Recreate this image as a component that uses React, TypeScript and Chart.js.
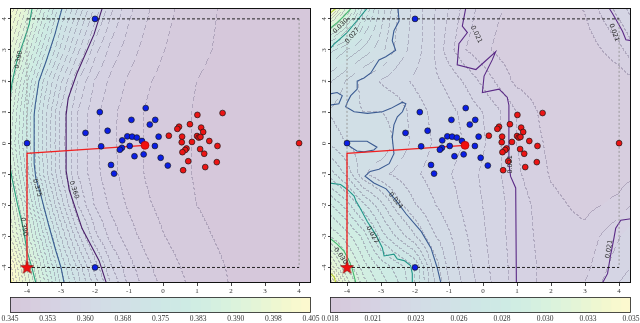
import React, { useEffect, useRef } from "react";
import { Chart, registerables } from "chart.js";
Chart.register(...registerables);

type Pt = [number, number];

const AXIS_MIN = -4.5;
const AXIS_MAX = 4.35;
const axisTicks = [-4, -3, -2, -1, 0, 1, 2, 3, 4];

// ---- scatter data (shared by both panels) ----
const blueX = [-1.86, -0.51, -0.93, -0.23, -0.39, -2.28, -1.63, -1.05, -0.91, -0.77, -1.2, -0.62, -0.13, -1.82, -1.21, -1.27, -0.98, -0.24, -0.84, -0.57, -0.07, -1.53, 0.14, -1.44];
const blueY = [1.0, 1.13, 0.75, 0.75, 0.6, 0.33, 0.4, 0.22, 0.21, 0.18, 0.09, 0.07, 0.21, -0.1, -0.15, -0.21, -0.09, -0.09, -0.42, -0.36, -0.47, -0.7, -0.72, -0.98];
const redX = [1.75, 1.01, 0.47, 0.42, 0.79, 1.12, 1.18, 0.17, 0.56, 1.0, 1.05, 1.1, 1.36, 0.55, 0.85, 1.6, 0.69, 1.09, 0.65, 0.57, 1.21, 0.74, 1.58, 1.24, 0.59];
const redY = [0.97, 0.91, 0.53, 0.46, 0.61, 0.5, 0.36, 0.24, 0.21, 0.23, 0.18, 0.2, 0.07, 0.03, 0.04, -0.09, -0.17, -0.19, -0.22, -0.29, -0.34, -0.58, -0.61, -0.77, -0.87];
const cornerBlueX = [-4, -2, -2];
const cornerBlueY = [0, 4, -4];
const cornerRedX = [4];
const cornerRedY = [0];
const targetX = [-0.53];
const targetY = [-0.07];
const starX = [-4];
const starY = [-4];
const pathX = [-4, -4, -0.53];
const pathY = [-4, -0.33, -0.07];
const boxX = [-4, 4];
const boxTopY = [4, 4];
const boxBottomY = [-4, -4];
const boxSideY = [4, -4];

// ---- left panel field ----
const leftGridX = [-4.5, -4, -3.5, -3, -2.5, -2, -1.5, -1, -0.5, 0, 1, 2, 3, 4.35];
const leftGridY = [4.35, 3, 2, 1, 0, -1, -2, -3, -4, -4.5];
const leftGrid = [
  [0.4011, 0.3926, 0.384, 0.3755, 0.369, 0.3627, 0.3574, 0.3536, 0.3515, 0.3497, 0.3478, 0.3465, 0.3458, 0.3452],
  [0.3954, 0.3867, 0.378, 0.3705, 0.3637, 0.3579, 0.3541, 0.352, 0.3503, 0.3491, 0.3475, 0.3464, 0.3457, 0.3451],
  [0.3913, 0.3817, 0.3728, 0.3656, 0.359, 0.3549, 0.3524, 0.3507, 0.3493, 0.3485, 0.347, 0.3461, 0.3455, 0.345],
  [0.389, 0.3793, 0.3705, 0.3626, 0.357, 0.3537, 0.3515, 0.35, 0.3489, 0.3481, 0.3468, 0.3459, 0.3453, 0.345],
  [0.3878, 0.3788, 0.3704, 0.3624, 0.3569, 0.3536, 0.3514, 0.35, 0.3489, 0.3481, 0.3468, 0.3459, 0.3453, 0.345],
  [0.3908, 0.3803, 0.3709, 0.3628, 0.357, 0.3537, 0.3516, 0.35, 0.3489, 0.3481, 0.3468, 0.3459, 0.3453, 0.345],
  [0.3946, 0.3846, 0.3747, 0.3664, 0.359, 0.3549, 0.3524, 0.3507, 0.3493, 0.3485, 0.347, 0.3461, 0.3455, 0.345],
  [0.3972, 0.3882, 0.3792, 0.371, 0.3636, 0.3577, 0.3541, 0.3519, 0.3502, 0.3491, 0.3475, 0.3464, 0.3457, 0.3451],
  [0.4045, 0.393, 0.3838, 0.375, 0.3686, 0.3623, 0.3571, 0.3538, 0.3516, 0.35, 0.3481, 0.3468, 0.3459, 0.3452],
  [0.4055, 0.3947, 0.3857, 0.3766, 0.3701, 0.3641, 0.3586, 0.3545, 0.3522, 0.3505, 0.3483, 0.3469, 0.346, 0.3452],
];
const leftCbTicks = [0.345, 0.3525, 0.36, 0.3675, 0.375, 0.3825, 0.39, 0.3975, 0.405];
const leftCbLabels = ["0.345", "0.353", "0.360", "0.368", "0.375", "0.383", "0.390", "0.398", "0.405"];

const left405: Pt[] = [[-4.53, -3.88], [-4.5, -4.19], [-4.47, -4.5]];
const left390a: Pt[] = [[-3.85, 4.34], [-3.94, 3.81], [-4.09, 3.31], [-4.29, 2.69], [-4.44, 1.94], [-4.53, 1.22]];
const left390b: Pt[] = [[-4.53, -0.56], [-4.44, -1.13], [-4.29, -1.91], [-4.12, -2.69], [-4.0, -3.47], [-3.85, -4.03], [-3.74, -4.5]];
const left375: Pt[] = [[-2.97, 4.34], [-3.18, 3.5], [-3.44, 2.63], [-3.65, 2.0], [-3.76, 1.22], [-3.79, 0.91], [-3.79, -0.66], [-3.74, -1.13], [-3.59, -1.69], [-3.35, -2.69], [-3.15, -3.47], [-3.0, -4.0], [-2.91, -4.5]];
const left360: Pt[] = [[-1.79, 4.34], [-2.03, 3.5], [-2.53, 2.25], [-2.79, 1.44], [-2.85, 0.91], [-2.85, -0.88], [-2.76, -1.5], [-2.38, -2.75], [-1.88, -3.78], [-1.65, -4.56]];

// ---- right panel field ----
const rightGridX = [-4.5, -4, -3.5, -3, -2.5, -2, -1.5, -1, -0.5, 0, 0.5, 1, 2, 3, 4, 4.35];
const rightGridY = [4.35, 3, 2, 1, 0, -1, -2, -3, -4, -4.5];
const rightGrid = [
  [0.0345, 0.031, 0.0275, 0.0255, 0.024, 0.0233, 0.0225, 0.0218, 0.021, 0.0205, 0.0202, 0.02, 0.0197, 0.0202, 0.0215, 0.022],
  [0.027, 0.0262, 0.0255, 0.0248, 0.0238, 0.0232, 0.0225, 0.0215, 0.0207, 0.0203, 0.02, 0.0198, 0.0196, 0.0198, 0.0205, 0.021],
  [0.0252, 0.0245, 0.0238, 0.0234, 0.0231, 0.0228, 0.0225, 0.0222, 0.0217, 0.0211, 0.0205, 0.02, 0.0197, 0.0196, 0.0198, 0.02],
  [0.0245, 0.0241, 0.024, 0.024, 0.0238, 0.0232, 0.0228, 0.0225, 0.0222, 0.0218, 0.0213, 0.0207, 0.0198, 0.0196, 0.0197, 0.0198],
  [0.025, 0.0245, 0.0243, 0.0245, 0.0238, 0.0233, 0.0229, 0.0226, 0.0223, 0.0219, 0.0213, 0.0207, 0.02, 0.0197, 0.0198, 0.0199],
  [0.0265, 0.0255, 0.0241, 0.0236, 0.0233, 0.023, 0.0227, 0.0224, 0.0221, 0.0217, 0.0213, 0.0208, 0.0201, 0.0198, 0.0199, 0.02],
  [0.0285, 0.0276, 0.0263, 0.0253, 0.0242, 0.0235, 0.023, 0.0226, 0.0222, 0.0218, 0.0214, 0.021, 0.0203, 0.02, 0.0203, 0.0207],
  [0.03, 0.0292, 0.0282, 0.0265, 0.0255, 0.0246, 0.0236, 0.023, 0.0224, 0.0219, 0.0214, 0.021, 0.0204, 0.0203, 0.0212, 0.0216],
  [0.0328, 0.0305, 0.0292, 0.0283, 0.0276, 0.0268, 0.0246, 0.0233, 0.0226, 0.022, 0.0215, 0.021, 0.0205, 0.0205, 0.0216, 0.0218],
  [0.035, 0.0315, 0.0297, 0.0287, 0.0279, 0.0268, 0.0248, 0.0235, 0.0227, 0.0221, 0.0215, 0.021, 0.0205, 0.0207, 0.0218, 0.022],
];
const rightCbTicks = [0.0185, 0.02086, 0.02321, 0.02557, 0.02793, 0.03029, 0.03264, 0.035];
const rightCbLabels = ["0.018", "0.021", "0.023", "0.026", "0.028", "0.030", "0.033", "0.035"];

const right033a: Pt[] = [[-4.32, 4.34], [-4.53, 4.16]];
const right030a: Pt[] = [[-3.88, 4.34], [-4.09, 4.09], [-4.29, 3.88], [-4.53, 3.66]];
const right027a: Pt[] = [[-3.41, 4.34], [-3.71, 3.94], [-4.0, 3.56], [-4.38, 3.19], [-4.53, 3.0]];
const right024: Pt[] = [[-2.5, 4.34], [-2.47, 3.93], [-2.62, 3.62], [-2.67, 3.3], [-2.57, 2.99], [-2.86, 2.78], [-3.06, 2.68], [-3.21, 2.42], [-3.3, 2.26], [-3.5, 2.1], [-3.7, 2.0], [-3.7, 1.74], [-3.89, 1.53], [-3.99, 1.32], [-4.04, 1.17], [-3.79, 1.01], [-3.4, 0.96], [-2.96, 1.01], [-2.71, 1.12], [-2.37, 1.32], [-2.27, 1.27], [-2.37, 1.01], [-2.52, 0.85], [-2.62, 0.59], [-2.67, 0.18], [-2.62, -0.34], [-2.76, -0.66], [-3.06, -0.84], [-3.32, -0.91], [-3.47, -1.06], [-3.21, -1.28], [-2.85, -1.47], [-2.56, -1.84], [-2.26, -2.28], [-1.82, -2.84], [-1.53, -3.38], [-1.35, -4.0], [-1.24, -4.5]];
const right024blob: Pt[] = [[-4.53, 1.58], [-4.29, 1.63], [-4.14, 1.53], [-4.24, 1.27], [-4.53, 1.22]];
const right024loop: Pt[] = [[-4.0, 0.06], [-3.41, 0.06], [-3.12, -0.13], [-3.21, -0.22], [-3.5, -0.28], [-3.71, -0.25], [-3.94, -0.09], [-4.0, 0.06]];
const right021: Pt[] = [[-0.51, 4.34], [-0.61, 3.77], [-0.46, 3.56], [-0.71, 3.2], [-0.76, 2.52], [-0.21, 2.37], [0.37, 2.94], [0.27, 2.68], [0.03, 2.16], [-0.02, 1.63], [0.47, 1.74], [0.71, 1.48], [0.76, 1.22], [0.76, -0.66], [0.81, -1.07], [0.96, -1.44], [0.98, -4.5]];
const right021tr: Pt[] = [[3.71, 4.34], [3.8, 4.18], [3.95, 3.9], [4.1, 3.6], [4.2, 3.33], [4.35, 3.3]];
const right021br: Pt[] = [[4.35, -2.43], [4.05, -2.48], [3.9, -2.74], [3.85, -3.05], [3.75, -3.6], [3.66, -4.2], [3.51, -4.5]];
const right027b: Pt[] = [[-4.53, -1.28], [-4.19, -1.33], [-3.99, -1.49], [-3.79, -1.7], [-3.74, -1.85], [-3.6, -2.12], [-3.4, -2.53], [-3.15, -2.95], [-2.96, -3.37], [-2.91, -3.63], [-2.62, -3.57], [-2.52, -3.73], [-2.32, -3.78], [-2.13, -3.94], [-2.08, -4.2], [-2.08, -4.5]];
const right030b: Pt[] = [[-4.53, -3.03], [-4.29, -3.25], [-4.09, -3.47], [-3.94, -3.78], [-3.85, -4.03], [-3.74, -4.5]];
const right033b: Pt[] = [[-4.53, -4.15], [-4.38, -4.3], [-4.33, -4.5]];

type Label = { t: string; x: number; y: number; a: number };
const leftLabels: Label[] = [
  { t: "0.390", x: -4.24, y: 2.69, a: -78 },
  { t: "0.375", x: -3.7, y: -1.44, a: 74 },
  { t: "0.360", x: -2.62, y: -1.5, a: 72 },
  { t: "0.390", x: -4.09, y: -2.69, a: 81 },
];
const rightLabels: Label[] = [
  { t: "0.030", x: -4.19, y: 3.77, a: -45 },
  { t: "0.027", x: -3.84, y: 3.46, a: -50 },
  { t: "0.021", x: -0.2, y: 3.5, a: 65 },
  { t: "0.021", x: 3.85, y: 3.56, a: 70 },
  { t: "0.021", x: 0.8, y: -0.68, a: -90 },
  { t: "0.024", x: -2.57, y: -1.85, a: 52 },
  { t: "0.027", x: -3.26, y: -2.95, a: 61 },
  { t: "0.030", x: -4.19, y: -3.63, a: 55 },
  { t: "0.021", x: 3.71, y: -3.41, a: -80 },
];

// ---- helpers ----
const VIR: number[][] = [
  [68, 1, 84], [72, 36, 117], [65, 68, 135], [53, 95, 141], [42, 120, 142], [33, 145, 140],
  [34, 168, 132], [68, 191, 112], [122, 209, 81], [189, 223, 38], [253, 231, 37],
];
function viridis(t: number): number[] {
  const u = Math.max(0, Math.min(1, t)) * 10;
  const i = Math.min(9, Math.floor(u));
  const f = u - i;
  return [0, 1, 2].map((k) => VIR[i][k] + (VIR[i + 1][k] - VIR[i][k]) * f);
}
const ALPHA = 0.22;
function pale(t: number): number[] {
  return viridis(t).map((c) => 255 - ALPHA * (255 - c));
}
function rgb(c: number[]) {
  return `rgb(${Math.round(c[0])},${Math.round(c[1])},${Math.round(c[2])})`;
}
function locate(arr: number[], v: number): [number, number] {
  const n = arr.length;
  for (let i = 0; i < n - 1; i++) {
    const a = arr[i], b = arr[i + 1];
    if (v >= Math.min(a, b) && v <= Math.max(a, b)) return [i, (v - a) / (b - a)];
  }
  const asc = arr[n - 1] > arr[0];
  if (asc ? v < arr[0] : v > arr[0]) return [0, 0];
  return [n - 2, 1];
}
function makeStar(): HTMLCanvasElement {
  const c = document.createElement("canvas");
  c.width = 15;
  c.height = 15;
  const g = c.getContext("2d")!;
  g.beginPath();
  for (let i = 0; i < 10; i++) {
    const r = i % 2 === 0 ? 6.8 : 2.8;
    const ang = -Math.PI / 2 + (i * Math.PI) / 5;
    const px = 7.5 + r * Math.cos(ang);
    const py = 7.8 + r * Math.sin(ang);
    if (i === 0) g.moveTo(px, py);
    else g.lineTo(px, py);
  }
  g.closePath();
  g.fillStyle = "#f01010";
  g.fill();
  g.strokeStyle = "#800000";
  g.lineWidth = 0.6;
  g.stroke();
  return c;
}
const xy = (xs: number[], ys: number[]) => xs.map((x, i) => ({ x, y: ys[i] }));
const pts = (p: Pt[]) => p.map(([x, y]) => ({ x, y }));

type Contour = { pts: Pt[]; color: string };
type PanelProps = {
  gx: number[];
  gy: number[];
  grid: number[][];
  vmin: number;
  vmax: number;
  nb: number;
  contours: Contour[];
  labels: Label[];
  cbTicks: number[];
  cbLabels: string[];
};

const TICK_FONT = { size: 7, family: "'Liberation Serif', serif" };

function Panel(props: PanelProps) {
  const mainRef = useRef<HTMLCanvasElement>(null);
  const cbRef = useRef<HTMLCanvasElement>(null);

  useEffect(() => {
    const { gx, gy, grid, vmin, vmax, nb, contours, labels, cbTicks, cbLabels } = props;
    const palette = Array.from({ length: nb }, (_, k) => pale((k + 0.5) / nb));

    const fieldPlugin = {
      id: "field",
      beforeDatasetsDraw(chart: any) {
        const { ctx, chartArea, scales } = chart;
        const L = Math.round(chartArea.left), T = Math.round(chartArea.top);
        const W = Math.round(chartArea.right) - L, H = Math.round(chartArea.bottom) - T;
        const cx: [number, number][] = [];
        const cy: [number, number][] = [];
        for (let i = 0; i < W; i++) cx.push(locate(gx, scales.x.getValueForPixel(L + i + 0.5)));
        for (let j = 0; j < H; j++) cy.push(locate(gy, scales.y.getValueForPixel(T + j + 0.5)));
        const band = new Int16Array(W * H);
        for (let j = 0; j < H; j++) {
          const [jy, fy] = cy[j];
          const r0 = grid[jy], r1 = grid[jy + 1];
          for (let i = 0; i < W; i++) {
            const [ix, fx] = cx[i];
            const v0 = r0[ix] + (r0[ix + 1] - r0[ix]) * fx;
            const v1 = r1[ix] + (r1[ix + 1] - r1[ix]) * fx;
            const v = v0 + (v1 - v0) * fy;
            let b = Math.floor(((v - vmin) / (vmax - vmin)) * nb);
            if (b < 0) b = 0;
            if (b > nb - 1) b = nb - 1;
            band[j * W + i] = b;
          }
        }
        const img = ctx.createImageData(W, H);
        const d = img.data;
        for (let j = 0; j < H; j++) {
          for (let i = 0; i < W; i++) {
            const k = j * W + i;
            const b = band[k];
            let c = palette[b];
            const edge =
              (i < W - 1 && band[k + 1] !== b) || (j < H - 1 && band[k + W] !== b);
            if (edge && Math.floor((i + j) / 2) % 3 !== 0) {
              c = c.map((v, n) => v * 0.6 + [120, 110, 140][n] * 0.4);
            }
            d[k * 4] = c[0];
            d[k * 4 + 1] = c[1];
            d[k * 4 + 2] = c[2];
            d[k * 4 + 3] = 255;
          }
        }
        ctx.putImageData(img, L, T);
      },
      afterDatasetsDraw(chart: any) {
        const { ctx, scales } = chart;
        ctx.save();
        ctx.font = "6.5px 'DejaVu Sans'";
        ctx.fillStyle = "#2a2a2a";
        ctx.textAlign = "center";
        ctx.textBaseline = "middle";
        for (const l of labels) {
          ctx.save();
          ctx.translate(scales.x.getPixelForValue(l.x), scales.y.getPixelForValue(l.y));
          ctx.rotate((l.a * Math.PI) / 180);
          ctx.fillText(l.t, 0, 0);
          ctx.restore();
        }
        ctx.restore();
      },
      afterDraw(chart: any) {
        const { ctx, chartArea, scales } = chart;
        ctx.save();
        ctx.strokeStyle = "#111";
        ctx.lineWidth = 1;
        ctx.strokeRect(chartArea.left + 0.5, chartArea.top + 0.5, chartArea.right - chartArea.left - 1, chartArea.bottom - chartArea.top - 1);
        ctx.font = "7px 'Liberation Serif'";
        ctx.fillStyle = "#333";
        ctx.textAlign = "center";
        ctx.textBaseline = "middle";
        for (const v of axisTicks) {
          ctx.save();
          ctx.translate(4, scales.y.getPixelForValue(v));
          ctx.rotate(-Math.PI / 2);
          ctx.fillText(String(v), 0, 0);
          ctx.restore();
        }
        ctx.restore();
      },
    };

    const lineDs = (data: any[], color: string, width: number, order: number, dash?: number[]) => ({
      data,
      showLine: true,
      borderColor: color,
      borderWidth: width,
      borderDash: dash || [],
      pointRadius: 0,
      fill: false,
      tension: 0,
      order,
    });

    const star = makeStar();
    const datasets: any[] = [
      ...contours.map((c) => lineDs(pts(c.pts), c.color, 1.1, 20)),
      lineDs(xy(boxX, boxTopY), "#111", 0.9, 10, [3, 2]),
      lineDs(xy(boxX, boxBottomY), "#111", 0.9, 10, [3, 2]),
      lineDs(xy([boxX[0], boxX[0]], boxSideY), "#9a9a9a", 1, 11, [2, 2]),
      lineDs(xy([boxX[1], boxX[1]], boxSideY), "#9a9a9a", 1, 11, [2, 2]),
      lineDs(xy(pathX, pathY), "#f02020", 1.3, 5),
      { data: xy(blueX, blueY), pointRadius: 2.9, pointBackgroundColor: "#0a1ee6", pointBorderColor: "#1a1a1a", pointBorderWidth: 0.7, order: 2 },
      { data: xy(cornerBlueX, cornerBlueY), pointRadius: 2.9, pointBackgroundColor: "#0a1ee6", pointBorderColor: "#1a1a1a", pointBorderWidth: 0.7, order: 2 },
      { data: xy(redX, redY), pointRadius: 2.9, pointBackgroundColor: "#ec1414", pointBorderColor: "#1a1a1a", pointBorderWidth: 0.7, order: 2 },
      { data: xy(cornerRedX, cornerRedY), pointRadius: 2.9, pointBackgroundColor: "#ec1414", pointBorderColor: "#1a1a1a", pointBorderWidth: 0.7, order: 2 },
      { data: xy(targetX, targetY), pointRadius: 4, pointBackgroundColor: "#f01010", pointBorderColor: "#a00000", pointBorderWidth: 0.6, order: 1 },
      { data: xy(starX, starY), pointStyle: star, pointRadius: 7, order: 0 },
    ];

    const main = new Chart(mainRef.current!, {
      type: "scatter",
      data: { datasets },
      plugins: [fieldPlugin],
      options: {
        animation: false,
        responsive: true,
        maintainAspectRatio: false,
        events: [],
        layout: { padding: { left: 0, right: 9, top: 0, bottom: 0 } },
        plugins: { legend: { display: false }, tooltip: { enabled: false } },
        scales: {
          x: {
            type: "linear",
            min: AXIS_MIN,
            max: AXIS_MAX,
            afterBuildTicks: (s: any) => {
              s.ticks = axisTicks.map((v) => ({ value: v }));
            },
            afterFit: (s: any) => {
              s.height = 13;
            },
            border: { display: false },
            grid: { display: true, drawOnChartArea: false, tickLength: 3, color: "#444" },
            ticks: { font: TICK_FONT, color: "#333", padding: 1, maxRotation: 0, autoSkip: false },
          },
          y: {
            type: "linear",
            min: AXIS_MIN,
            max: AXIS_MAX,
            afterBuildTicks: (s: any) => {
              s.ticks = axisTicks.map((v) => ({ value: v }));
            },
            afterFit: (s: any) => {
              s.width = 10;
            },
            border: { display: false },
            grid: { display: true, drawOnChartArea: false, tickLength: 2, color: "#444" },
            ticks: { display: false },
          },
        },
      } as any,
    });

    const step = (vmax - vmin) / nb;
    const cbDatasets = palette.map((c, k) => ({
      data: [[vmin + k * step, vmin + (k + 1) * step]],
      backgroundColor: rgb(c),
      borderWidth: 0,
      borderSkipped: false,
      grouped: false,
      barPercentage: 1,
      categoryPercentage: 1,
    }));
    const cbFrame = {
      id: "cbframe",
      afterDraw(chart: any) {
        const { ctx, chartArea, scales } = chart;
        ctx.save();
        ctx.strokeStyle = "#222";
        ctx.lineWidth = 0.8;
        ctx.strokeRect(chartArea.left + 0.5, chartArea.top + 0.5, chartArea.right - chartArea.left - 1, chartArea.bottom - chartArea.top - 1);
        ctx.font = "7.5px 'Liberation Serif'";
        ctx.fillStyle = "#333";
        ctx.textAlign = "center";
        ctx.textBaseline = "middle";
        cbTicks.forEach((v, i) => {
          ctx.fillText(cbLabels[i], scales.x.getPixelForValue(v), chartArea.bottom + 6);
        });
        ctx.restore();
      },
    };
    const cb = new Chart(cbRef.current!, {
      type: "bar",
      data: { labels: [""], datasets: cbDatasets as any },
      plugins: [cbFrame],
      options: {
        indexAxis: "y",
        animation: false,
        responsive: true,
        maintainAspectRatio: false,
        events: [],
        layout: { padding: { left: 10, right: 9, top: 1, bottom: 10 } },
        plugins: { legend: { display: false }, tooltip: { enabled: false } },
        scales: {
          x: { type: "linear", min: vmin, max: vmax, display: false },
          y: { type: "category", display: false },
        },
      } as any,
    });

    return () => {
      main.destroy();
      cb.destroy();
    };
  }, []);

  return (
    <div style={{ position: "relative", width: 320, height: 323 }}>
      <div style={{ position: "absolute", left: 0, top: 0, width: 320, height: 296 }}>
        <canvas ref={mainRef} />
      </div>
      <div style={{ position: "absolute", left: 0, top: 296, width: 320, height: 27 }}>
        <canvas ref={cbRef} />
      </div>
    </div>
  );
}

export default function App() {
  return (
    <div style={{ position: "absolute", left: 0, top: 0, width: 640, height: 323, display: "flex", background: "#fff" }}>
      <Panel
        gx={leftGridX}
        gy={leftGridY}
        grid={leftGrid}
        vmin={0.345}
        vmax={0.405}
        nb={30}
        contours={[
          { pts: left405, color: "#d8d21e" },
          { pts: left390a, color: "#2a9d7c" },
          { pts: left390b, color: "#2a9d7c" },
          { pts: left375, color: "#3a5f93" },
          { pts: left360, color: "#4b1f6b" },
        ]}
        labels={leftLabels}
        cbTicks={leftCbTicks}
        cbLabels={leftCbLabels}
      />
      <Panel
        gx={rightGridX}
        gy={rightGridY}
        grid={rightGrid}
        vmin={0.0185}
        vmax={0.035}
        nb={30}
        contours={[
          { pts: right033a, color: "#b8d430" },
          { pts: right030a, color: "#45b86e" },
          { pts: right027a, color: "#22968a" },
          { pts: right024, color: "#3b5b92" },
          { pts: right024blob, color: "#3b5b92" },
          { pts: right024loop, color: "#3b5b92" },
          { pts: right021, color: "#5b2a86" },
          { pts: right021tr, color: "#5b2a86" },
          { pts: right021br, color: "#5b2a86" },
          { pts: right027b, color: "#22968a" },
          { pts: right030b, color: "#45b86e" },
          { pts: right033b, color: "#b8d430" },
        ]}
        labels={rightLabels}
        cbTicks={rightCbTicks}
        cbLabels={rightCbLabels}
      />
    </div>
  );
}
